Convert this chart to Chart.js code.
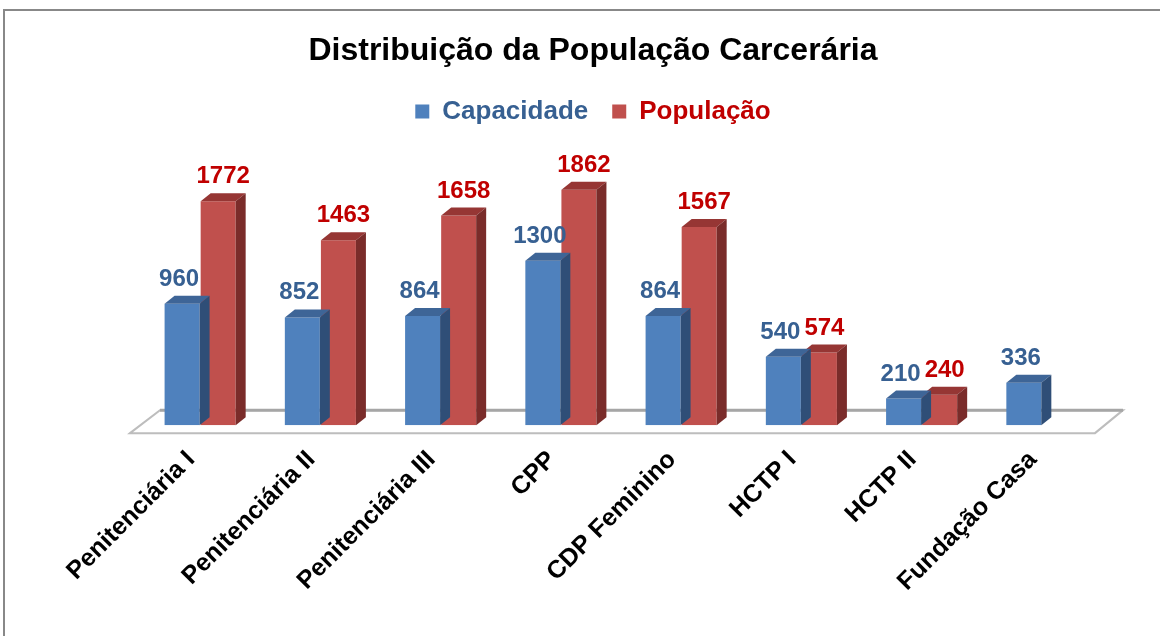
<!DOCTYPE html>
<html>
<head>
<meta charset="UTF-8">
<title>Distribuição da População Carcerária</title>
<script src="https://cdn.jsdelivr.net/npm/chart.js"></script>
<style>
  body { margin: 0; background: #fff; }
</style>
</head>
<body>
<canvas id="chart" width="1160" height="636"></canvas>
<script>
    // dados do gráfico
    const categorias = ['Penitenciária I', 'Penitenciária II', 'Penitenciária III', 'CPP',
        'CDP Feminino', 'HCTP I', 'HCTP II', 'Fundação Casa'];
    const capacidade = [960, 852, 864, 1300, 864, 540, 210, 336];
    const populacao = [1772, 1463, 1658, 1862, 1567, 574, 240, null];

    const FONTE = '"Liberation Sans", Arial, sans-serif';
    const DX = 10, DY = 8; // profundidade do efeito 3D

    // cores: frente, topo, lateral, rótulo
    const coresCap = ['#4F81BD', '#3E6597', '#2F4E77', '#376092'];
    const coresPop = ['#C0504D', '#963634', '#7A2C2A', '#C00000'];

    // moldura, piso, faces 3D e rótulos de dados
    const pisoPlugin = {
        id: 'piso',
        beforeDraw(chart) {
            const ctx = chart.ctx;
            ctx.save();
            ctx.strokeStyle = '#888';
            ctx.lineWidth = 2;
            ctx.strokeRect(4, 10, 1200, 700);
            ctx.restore();
        },
        beforeDatasetsDraw(chart) {
            const ctx = chart.ctx;
            const a = chart.chartArea;
            const base = chart.scales.y.getPixelForValue(0);
            const fl = a.left - 10, fr = a.right - 7, fy = base + 8;
            const bl = a.left + 20, br = a.right + 21, by = base - 15;
            ctx.save();
            ctx.beginPath();
            ctx.moveTo(fl, fy); ctx.lineTo(bl, by); ctx.lineTo(br, by); ctx.lineTo(fr, fy);
            ctx.closePath();
            ctx.fillStyle = '#fff';
            ctx.fill();
            ctx.strokeStyle = '#bdbdbd';
            ctx.lineWidth = 2;
            ctx.stroke();
            ctx.beginPath();
            ctx.moveTo(bl, by); ctx.lineTo(br, by);
            ctx.strokeStyle = '#a6a6a6';
            ctx.lineWidth = 3;
            ctx.stroke();
            ctx.restore();
        },
        afterDatasetDraw(chart, args) {
            const ctx = chart.ctx;
            const valores = chart.data.datasets[args.index].data;
            const cores = args.index === 0 ? coresCap : coresPop;
            chart.getDatasetMeta(args.index).data.forEach(function(bar, j) {
                if (valores[j] == null) return;
                const l = bar.x - bar.width / 2, r = bar.x + bar.width / 2;
                const t = bar.y, b = bar.base;
                ctx.save();
                // topo
                ctx.beginPath();
                ctx.moveTo(l, t); ctx.lineTo(l + DX, t - DY); ctx.lineTo(r + DX, t - DY); ctx.lineTo(r, t);
                ctx.closePath();
                ctx.fillStyle = cores[1];
                ctx.fill();
                // lateral
                ctx.beginPath();
                ctx.moveTo(r, t); ctx.lineTo(r + DX, t - DY); ctx.lineTo(r + DX, b - DY); ctx.lineTo(r, b);
                ctx.closePath();
                ctx.fillStyle = cores[2];
                ctx.fill();
                ctx.restore();
            });
        },
        afterDatasetsDraw(chart) {
            const ctx = chart.ctx;
            ctx.save();
            ctx.font = 'bold 24px ' + FONTE;
            ctx.textAlign = 'center';
            ctx.textBaseline = 'alphabetic';
            chart.data.datasets.forEach(function(ds, i) {
                const cores = i === 0 ? coresCap : coresPop;
                chart.getDatasetMeta(i).data.forEach(function(bar, j) {
                    if (ds.data[j] == null) return;
                    ctx.fillStyle = cores[3];
                    ctx.fillText(String(ds.data[j]), bar.x + (i === 0 ? -3 : 5), bar.y - 18);
                });
            });
            ctx.restore();
        }
    };

    new Chart(document.getElementById('chart'), {
        type: 'bar',
        data: {
            labels: categorias,
            datasets: [
                { label: 'Capacidade', data: capacidade, backgroundColor: coresCap[0] },
                { label: 'População', data: populacao, backgroundColor: coresPop[0] }
            ]
        },
        options: {
            responsive: false,
            animation: false,
            layout: { padding: { left: 46, right: 20, top: 0, bottom: 27 } },
            datasets: { bar: { categoryPercentage: 0.6, barPercentage: 0.97 } },
            plugins: {
                title: {
                    display: true,
                    text: 'Distribuição da População Carcerária',
                    color: '#000',
                    font: { family: FONTE, size: 32, weight: 'bold' },
                    padding: { top: 32, bottom: 4 }
                },
                legend: {
                    display: true,
                    labels: {
                        font: { family: FONTE, size: 26, weight: 'bold' },
                        boxWidth: 14,
                        boxHeight: 14,
                        padding: 24,
                        generateLabels: function(chart) {
                            return chart.data.datasets.map(function(ds, i) {
                                const cores = i === 0 ? coresCap : coresPop;
                                return {
                                    text: ds.label,
                                    fillStyle: cores[0],
                                    strokeStyle: cores[0],
                                    lineWidth: 0,
                                    fontColor: cores[3],
                                    datasetIndex: i,
                                    hidden: false
                                };
                            });
                        }
                    }
                },
                tooltip: { enabled: false }
            },
            scales: {
                x: {
                    grid: { display: false },
                    border: { display: false },
                    ticks: {
                        color: '#000',
                        font: { family: FONTE, size: 25, weight: 'bold' },
                        minRotation: 45,
                        maxRotation: 45,
                        padding: 12,
                        labelOffset: -9
                    }
                },
                y: {
                    display: true,
                    min: 0,
                    max: 2300,
                    grid: { display: false },
                    border: { display: false },
                    ticks: { display: false },
                    afterFit: function(s) { s.width = 94; }
                },
                y2: {
                    display: true,
                    position: 'right',
                    grid: { display: false },
                    border: { display: false },
                    ticks: { display: false },
                    afterFit: function(s) { s.width = 38; }
                }
            }
        },
        plugins: [pisoPlugin]
    });
</script>
</body>
</html>
